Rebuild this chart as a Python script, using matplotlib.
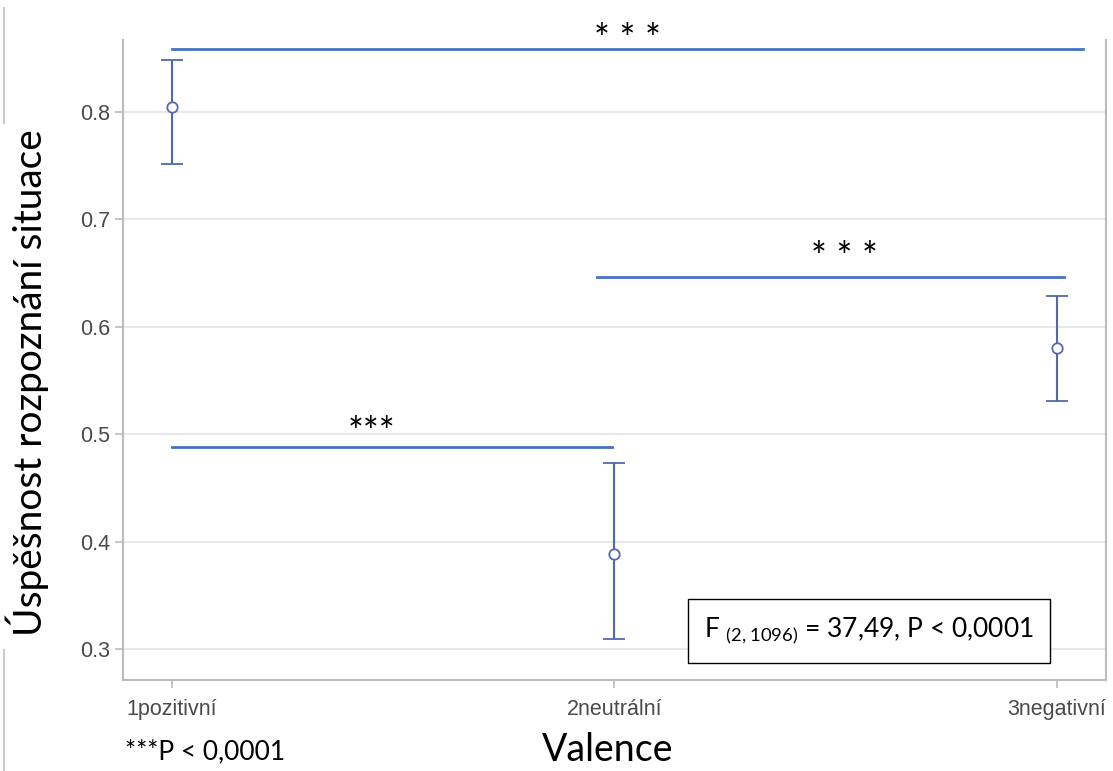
import numpy as np
import matplotlib.pyplot as plt
from matplotlib.lines import Line2D

# hodnoty
kategorie = ['1pozitivní', '2neutrální', '3negativní']
prumer = [0.805, 0.388, 0.580]
horni = [0.848, 0.473, 0.629]
dolni = [0.752, 0.309, 0.531]

# vyznamnostni cary: (x od, x do, y, text)
sig_x0 = [1.0, 1.96, 1.0]
sig_x1 = [3.06, 3.016, 1.995]
sig_y = [0.859, 0.646, 0.488]
sig_txt = ['* * *', '* * *', '***']
sig_tx = [2.03, 2.52, 1.45]
sig_ty = [0.866, 0.663, 0.500]

fig = plt.figure(figsize=(11.13, 7.71), dpi=100)
ax = fig.add_axes([0.1105, 0.118, 0.883, 0.830])

x = np.arange(1, len(kategorie) + 1)
yerr = [np.array(prumer) - np.array(dolni), np.array(horni) - np.array(prumer)]
ax.errorbar(x, prumer, yerr=yerr, fmt='o', mfc='white', mec='#5468b0', ms=7.5,
            mew=1.3, ecolor='#5468b0', elinewidth=1.5, capsize=8, capthick=1.5,
            zorder=3)

for i in range(len(sig_y)):
    ax.plot([sig_x0[i], sig_x1[i]], [sig_y[i], sig_y[i]], color='#4472C4', lw=2, zorder=2)
    ax.text(sig_tx[i], sig_ty[i], sig_txt[i], ha='center', va='center',
            fontsize=27, family='Lato', clip_on=False)

ax.set_xlim(0.889, 3.111)
ax.set_ylim(0.271, 0.867)
ax.set_xticks(x)
ax.set_xticklabels(kategorie)
ax.set_yticks([0.3, 0.4, 0.5, 0.6, 0.7, 0.8])
ax.grid(axis='y', color='#e8e8e8', lw=1.5)
ax.set_axisbelow(True)
for s in ['left', 'bottom', 'right']:
    ax.spines[s].set_color('#b8bcc2')
    ax.spines[s].set_linewidth(1.5)
ax.spines['top'].set_visible(False)
ax.tick_params(colors='#b8bcc2', labelcolor='#4a4a4a', labelsize=15.5, length=6, width=1.2)
ax.tick_params(axis='x', pad=8)
for lab in ax.get_xticklabels() + ax.get_yticklabels():
    lab.set_family('Liberation Sans')

ax.set_ylabel('Úspěšnost rozpoznání situace', fontsize=28, family='Lato')
ax.yaxis.set_label_coords(-0.0977, 0.464)
ax.yaxis.label.set_va('center')
ax.set_xlabel('Valence', fontsize=27, family='Lato')
ax.xaxis.set_label_coords(0.493, -0.109)
ax.xaxis.label.set_va('center')

# ramecek s F statistikou
ax.text(0.759, 0.0766, r'F $_{\mathregular{(2,1096)}}$ = 37,49, P < 0,0001',
        transform=ax.transAxes, ha='center', va='center', fontsize=19, family='Lato',
        bbox=dict(boxstyle='square,pad=0.62', fc='white', ec='black', lw=1))

fig.text(0.112, 0.0246, '***P < 0,0001', fontsize=19, family='Lato', va='center')

# svisle sede cary na okraji
fig.add_artist(Line2D([0.004, 0.004], [0.84, 0.99], color='#cccccc', lw=1.5))
fig.add_artist(Line2D([0.004, 0.004], [0.0, 0.157], color='#cccccc', lw=1.5))

fig.savefig('out.png', dpi=100)
